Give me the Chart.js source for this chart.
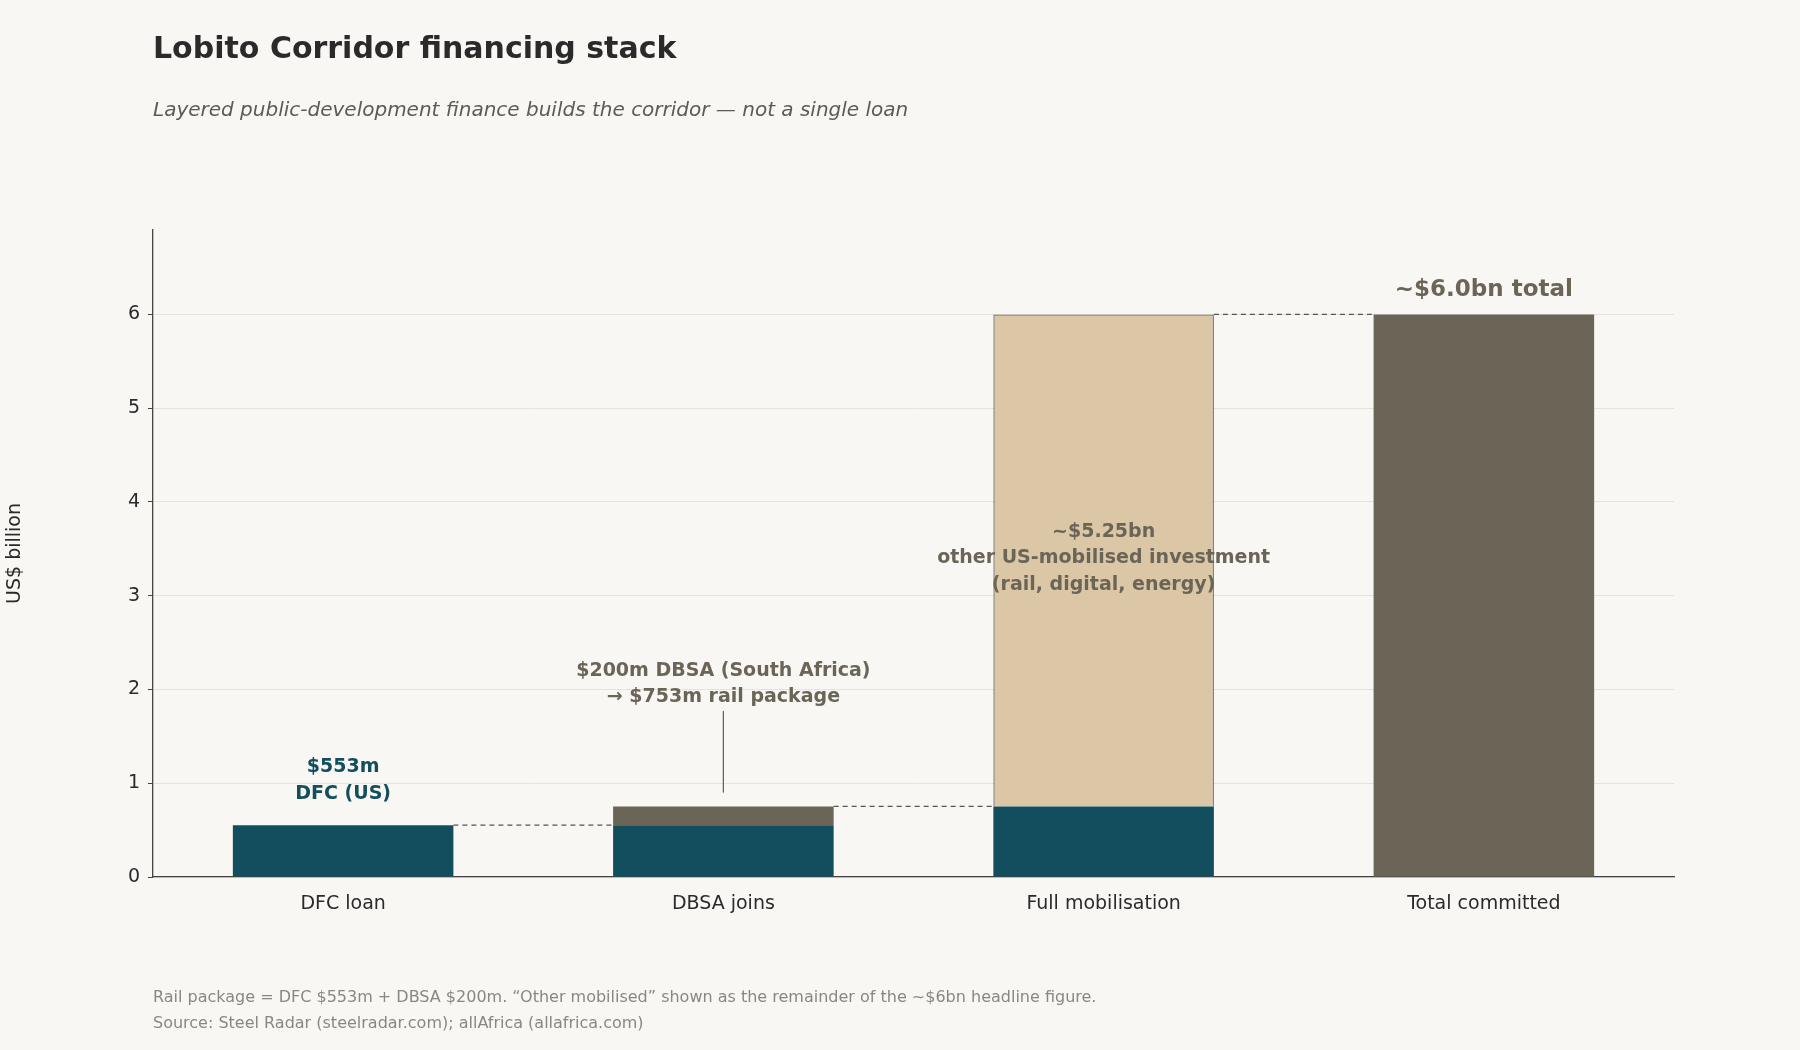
<!DOCTYPE html>
<html>
<head>
<meta charset="utf-8">
<script src="https://cdn.jsdelivr.net/npm/chart.js@4"></script>
<style>
  body { margin: 0; background: #f9f7f4; font-family: "DejaVu Sans", sans-serif; }
  #wrap { position: relative; width: 1800px; height: 1050px; }
  .t { position: absolute; left: 153px; white-space: nowrap; }
  #title { top: 30px; font-size: 30px; font-weight: bold; color: #2a2a2a; }
  #sub { top: 97px; font-size: 20px; font-style: italic; color: #5e5a55; }
  #foot { top: 984px; font-size: 16px; color: #8a8783; line-height: 26px; }
</style>
</head>
<body>
<div id="wrap">
  <canvas id="c" width="1800" height="1050"></canvas>
  <div class="t" id="title">Lobito Corridor financing stack</div>
  <div class="t" id="sub">Layered public-development finance builds the corridor — not a single loan</div>
  <div class="t" id="foot">Rail package = DFC $553m + DBSA $200m. “Other mobilised” shown as the remainder of the ~$6bn headline figure.<br>Source: Steel Radar (steelradar.com); allAfrica (allafrica.com)</div>
</div>
<script>
const categories = ["DFC loan", "DBSA joins", "Full mobilisation", "Total committed"];
const dfcValues = [0.553, 0.553, 0, 0];
const dbsaValues = [0, 0.2, 0, 0];
const railValues = [0, 0, 0.753, 0];
const otherValues = [0, 0, 5.247, 0];
const totalValues = [0, 0, 0, 6.0];
const connectorLevels = [0.553, 0.753, 6.0];
const yTicks = [0, 1, 2, 3, 4, 5, 6];

const TEAL = "#134e5e", GREY = "#6b6558", TAN = "#dbc7a5";
const font = '"DejaVu Sans", sans-serif';

const overlay = {
  id: "overlay",
  afterDatasetsDraw(chart) {
    const { ctx, scales: { x, y } } = chart;
    const meta = chart.getDatasetMeta(0);
    const half = meta.data[0].width / 2;
    ctx.save();
    // dashed connectors
    ctx.strokeStyle = "#555";
    ctx.lineWidth = 1.3;
    ctx.setLineDash([5, 4]);
    connectorLevels.forEach((v, i) => {
      ctx.beginPath();
      ctx.moveTo(x.getPixelForValue(i) + half, y.getPixelForValue(v));
      ctx.lineTo(x.getPixelForValue(i + 1) - half, y.getPixelForValue(v));
      ctx.stroke();
    });
    ctx.setLineDash([]);
    // pointer line for DBSA
    ctx.strokeStyle = GREY;
    ctx.beginPath();
    ctx.moveTo(x.getPixelForValue(1), y.getPixelForValue(0.9));
    ctx.lineTo(x.getPixelForValue(1), y.getPixelForValue(1.77));
    ctx.stroke();
    ctx.textAlign = "center";
    ctx.textBaseline = "middle";
    const txt = (lines, i, v, color, size) => {
      ctx.fillStyle = color;
      ctx.font = "bold " + size + "px " + font;
      lines.forEach((l, k) => ctx.fillText(l, x.getPixelForValue(i), y.getPixelForValue(v) + k * size * 1.4));
    };
    txt(["$553m", "DFC (US)"], 0, 1.17, TEAL, 19);
    txt(["$200m DBSA (South Africa)", "→ $753m rail package"], 1, 2.2, GREY, 19);
    txt(["~$5.25bn", "other US-mobilised investment", "(rail, digital, energy)"], 2, 3.68, GREY, 19);
    txt(["~$6.0bn total"], 3, 6.26, GREY, 23);
    ctx.restore();
  }
};

new Chart(document.getElementById("c"), {
  type: "bar",
  data: {
    labels: categories,
    datasets: [
      { data: dfcValues, backgroundColor: TEAL },
      { data: dbsaValues, backgroundColor: GREY },
      { data: railValues, backgroundColor: TEAL },
      { data: otherValues, backgroundColor: TAN, borderColor: GREY, borderWidth: 1.3 },
      { data: totalValues, backgroundColor: GREY },
    ],
  },
  options: {
    responsive: false,
    animation: false,
    layout: { padding: { top: 230, right: 126, left: 0, bottom: 0 } },
    datasets: { bar: { barPercentage: 0.58, categoryPercentage: 1 } },
    plugins: { legend: { display: false }, tooltip: { enabled: false } },
    scales: {
      x: {
        stacked: true,
        grid: { display: false },
        border: { color: "#444", width: 1.3 },
        ticks: { color: "#2a2a2a", font: { family: font, size: 19 }, padding: 8 },
        afterFit(s) { s.height = 173; },
      },
      y: {
        stacked: true,
        min: 0,
        max: 6.9,
        afterBuildTicks(s) { s.ticks = yTicks.map(v => ({ value: v })); },
        grid: { color: "#e6e3df", drawTicks: true, tickColor: "#444", tickLength: 5 },
        border: { color: "#444", width: 1.3 },
        ticks: { color: "#2a2a2a", font: { family: font, size: 19 }, padding: 8 },
        title: { display: true, text: "US$ billion", color: "#2a2a2a", font: { family: font, size: 19 } },
        afterFit(s) { s.width = 153; },
      },
    },
  },
  plugins: [overlay],
});
</script>
</body>
</html>
